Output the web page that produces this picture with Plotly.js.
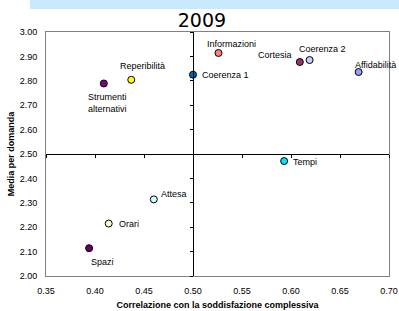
<!DOCTYPE html>
<html>
<head>
<meta charset="utf-8">
<script src="https://cdn.plot.ly/plotly-3.0.1.min.js"></script>
<style>html,body{margin:0;padding:0;background:#fff;}#chart{width:399px;height:311px;}</style>
</head>
<body>
<div id="chart"></div>
<script>
// Data
const names = ["Strumenti<br>alternativi","Reperibilità","Coerenza 1","Informazioni","Cortesia","Coerenza 2","Affidabilità","Tempi","Attesa","Orari","Spazi"];
const correlazione = [0.409,0.437,0.500,0.526,0.609,0.619,0.669,0.593,0.460,0.414,0.394];
const media = [2.789,2.804,2.825,2.914,2.877,2.885,2.836,2.471,2.314,2.215,2.114];
const xTicks = [0.35,0.40,0.45,0.50,0.55,0.60,0.65,0.70];
const yTicks = [2.00,2.10,2.20,2.30,2.40,2.50,2.60,2.70,2.80,2.90,3.00];

// Styling
const colors = ["#800080","#ffff00","#0066cc","#ff8080","#993366","#ccccff","#9999ff","#00e5ff","#ccffff","#ffffcc","#660066"];
const labelStyle = [
  {xs:4, ys:-20, xa:'center'},
  {xs:11, ys:14, xa:'center'},
  {xs:7, ys:0, xa:'left'},
  {xs:13, ys:9, xa:'center'},
  {xs:-25, ys:7, xa:'center'},
  {xs:13, ys:11, xa:'center'},
  {xs:17, ys:7, xa:'center'},
  {xs:7, ys:-1, xa:'left'},
  {xs:20, ys:5, xa:'center'},
  {xs:8, ys:0, xa:'left'},
  {xs:13, ys:-14, xa:'center'}
];
const FONT = 'Liberation Sans, Arial, sans-serif';

const traces = [
  {
    type:'scatter', mode:'markers', x:correlazione, y:media,
    marker:{size:7, color:colors, line:{color:'#000', width:1}},
    hoverinfo:'skip', cliponaxis:false
  },
  {type:'scatter', mode:'markers', x:[], y:[], xaxis:'x2', yaxis:'y2', showlegend:false}
];

const annotations = names.map((n,i)=>({
  x:correlazione[i], y:media[i], xref:'x', yref:'y', text:n, showarrow:false,
  xshift:labelStyle[i].xs, yshift:labelStyle[i].ys, xanchor:labelStyle[i].xa, yanchor:'middle',
  font:{family:FONT, size:9, color:'#000'}, align:'center'
}));

const axisCommon = {showgrid:false, zeroline:false, ticks:'', tickformat:'.2f',
  tickfont:{family:FONT, size:9, color:'#000'}, showline:true, mirror:true, linecolor:'#808080', linewidth:1};

const layout = {
  width:399, height:311,
  margin:{l:46, r:10, t:32, b:35},
  paper_bgcolor:'#fff', plot_bgcolor:'#fff',
  showlegend:false,
  title:{text:'2009', font:{family:'DejaVu Sans', size:19, color:'#000'}, x:0.506, xref:'container', xanchor:'center', y:0.934, yref:'container', yanchor:'middle'},
  xaxis:Object.assign({}, axisCommon, {range:[0.35,0.70], tickvals:xTicks, ticklabelstandoff:6,
    title:{text:'Correlazione con la soddisfazione complessiva', font:{family:FONT, size:9, color:'#000', weight:'bold'}, standoff:6}}),
  yaxis:Object.assign({}, axisCommon, {range:[2,3], tickvals:yTicks, ticklabelstandoff:6,
    title:{text:'Media per domanda', font:{family:FONT, size:9, color:'#000', weight:'bold'}, standoff:3}}),
  xaxis2:{overlaying:'x', anchor:'free', position:0.5, range:[0.35,0.70], tickvals:xTicks, showticklabels:false,
    ticks:'outside', ticklen:3, tickcolor:'#000', showline:true, linecolor:'#000', linewidth:1, showgrid:false, zeroline:false},
  yaxis2:{overlaying:'y', anchor:'free', position:(0.5-0.35)/(0.70-0.35), range:[2,3], tickvals:yTicks, showticklabels:false,
    ticks:'outside', ticklen:3, tickcolor:'#000', showline:true, linecolor:'#000', linewidth:1, showgrid:false, zeroline:false},
  shapes:[
    {type:'rect', xref:'paper', yref:'paper', x0:-16/343, x1:353/343, y0:1+23/244, y1:1+33/244,
     fillcolor:'#c8e8fc', line:{width:0}, layer:'below'}
  ],
  annotations:annotations
};

Plotly.newPlot('chart', traces, layout, {displayModeBar:false, staticPlot:true});
</script>
</body>
</html>
